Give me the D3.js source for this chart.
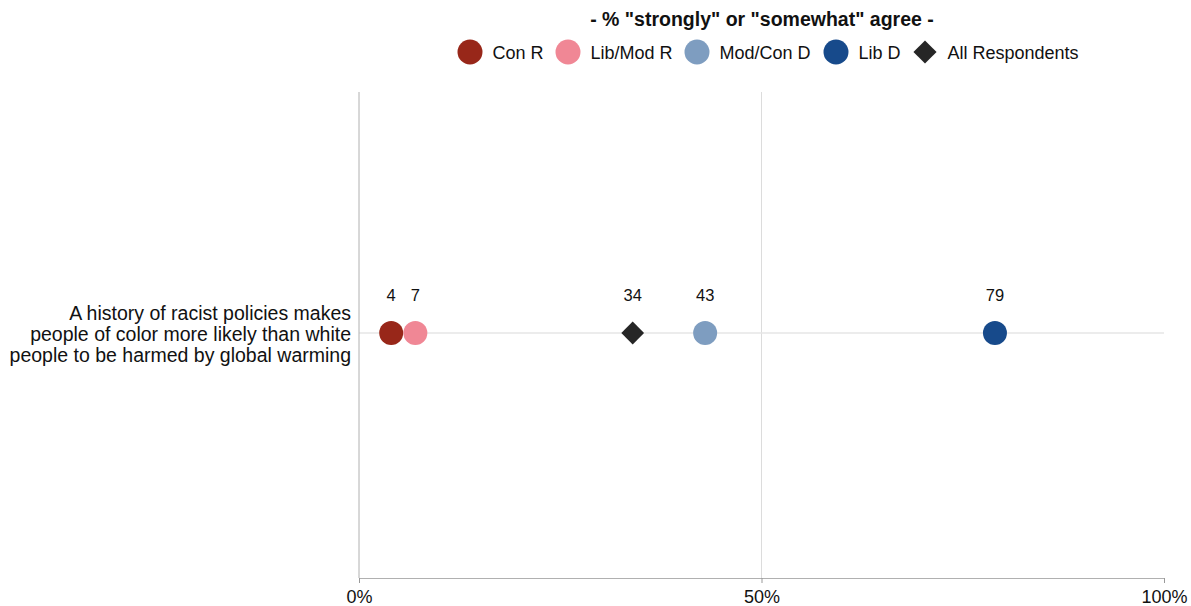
<!DOCTYPE html>
<html><head><meta charset="utf-8">
<script src="https://cdn.jsdelivr.net/npm/d3@7"></script>
<style>body{margin:0;background:#fff;} text{font-family:"Liberation Sans",Arial,sans-serif;}</style>
</head><body>
<script>
const groups = ["Con R","Lib/Mod R","Mod/Con D","Lib D","All Respondents"];
const colors = ["#982719","#f08795","#7e9dc0","#174a8b","#262626"];
const shapes = ["circle","circle","circle","circle","diamond"];
const statement = ["A history of racist policies makes","people of color more likely than white","people to be harmed by global warming"];
const values = [4,7,43,79,34];
const xTicks = [0,50,100];
const subtitle = '- % "strongly" or "somewhat" agree -';

(function(){
const W=1191,H=606;
const svg=d3.select("body").append("svg").attr("width",W).attr("height",H);
const x=d3.scaleLinear().domain([0,100]).range([359,1164]);
const plotTop=92,plotBottom=578;
const y=d3.scalePoint().domain(["q"]).range([plotTop,plotBottom-4]).padding(0.5);

// subtitle
svg.append("text").attr("x",762).attr("y",26).attr("text-anchor","middle")
  .attr("font-size",19.5).attr("font-weight","bold").attr("fill","#111").text(subtitle);

// legend
const legX=[470,568,697,836,925];
const leg=svg.append("g");
groups.forEach((g,i)=>{
  const gi=leg.append("g").attr("transform",`translate(${legX[i]},52)`);
  if(shapes[i]==="circle") gi.append("circle").attr("r",12.5).attr("fill",colors[i]);
  else gi.append("path").attr("d",d3.symbol(d3.symbolDiamond2,340)()).attr("fill",colors[i]);
  gi.append("text").attr("x",22.5).attr("y",6.5).attr("font-size",18).attr("fill","#111").text(g);
});

// gridlines
svg.append("g").selectAll("line").data([50]).join("line")
  .attr("x1",d=>x(d)).attr("x2",d=>x(d)).attr("y1",plotTop).attr("y2",plotBottom)
  .attr("stroke","#dcdcdc").attr("stroke-width",1);
svg.append("line").attr("x1",x(0)).attr("x2",x(100)).attr("y1",y("q")).attr("y2",y("q"))
  .attr("stroke","#e6e6e6").attr("stroke-width",1.5);
// left axis line
svg.append("line").attr("x1",x(0)).attr("x2",x(0)).attr("y1",plotTop).attr("y2",plotBottom)
  .attr("stroke","#b0b0b0").attr("stroke-width",1);

// x axis
const xa=svg.append("g").attr("transform",`translate(0,${plotBottom})`)
  .call(d3.axisBottom(x).tickValues(xTicks).tickFormat(d=>d+"%").tickSize(5).tickSizeOuter(0));
xa.select(".domain").attr("stroke","#b0b0b0");
xa.selectAll(".tick line").attr("stroke","#999");
xa.selectAll(".tick text").attr("font-size",18).attr("fill","#111").attr("y",25).attr("dy",0)
  .attr("font-family",'"Liberation Sans",Arial,sans-serif');

// y label
const yl=svg.append("text").attr("text-anchor","end").attr("font-size",19.5).attr("fill","#111");
statement.forEach((s,i)=>yl.append("tspan").attr("x",351).attr("y",y("q")-13+i*21).text(s));

// points
const data=groups.map((g,i)=>({g,v:values[i],c:colors[i],s:shapes[i]}));
const pts=svg.append("g");
data.filter(d=>d.s==="circle").forEach(d=>{
  pts.append("circle").attr("cx",x(d.v)).attr("cy",y("q")).attr("r",12).attr("fill",d.c);
});
data.filter(d=>d.s==="diamond").forEach(d=>{
  pts.append("path").attr("transform",`translate(${x(d.v)},${y("q")})`)
    .attr("d",d3.symbol(d3.symbolDiamond2,330)()).attr("fill",d.c);
});
// value labels
svg.append("g").selectAll("text").data(data).join("text")
  .attr("x",d=>x(d.v)).attr("y",y("q")-32).attr("text-anchor","middle")
  .attr("font-size",16.5).attr("fill","#111").text(d=>d.v);
})();
</script>
</body></html>
